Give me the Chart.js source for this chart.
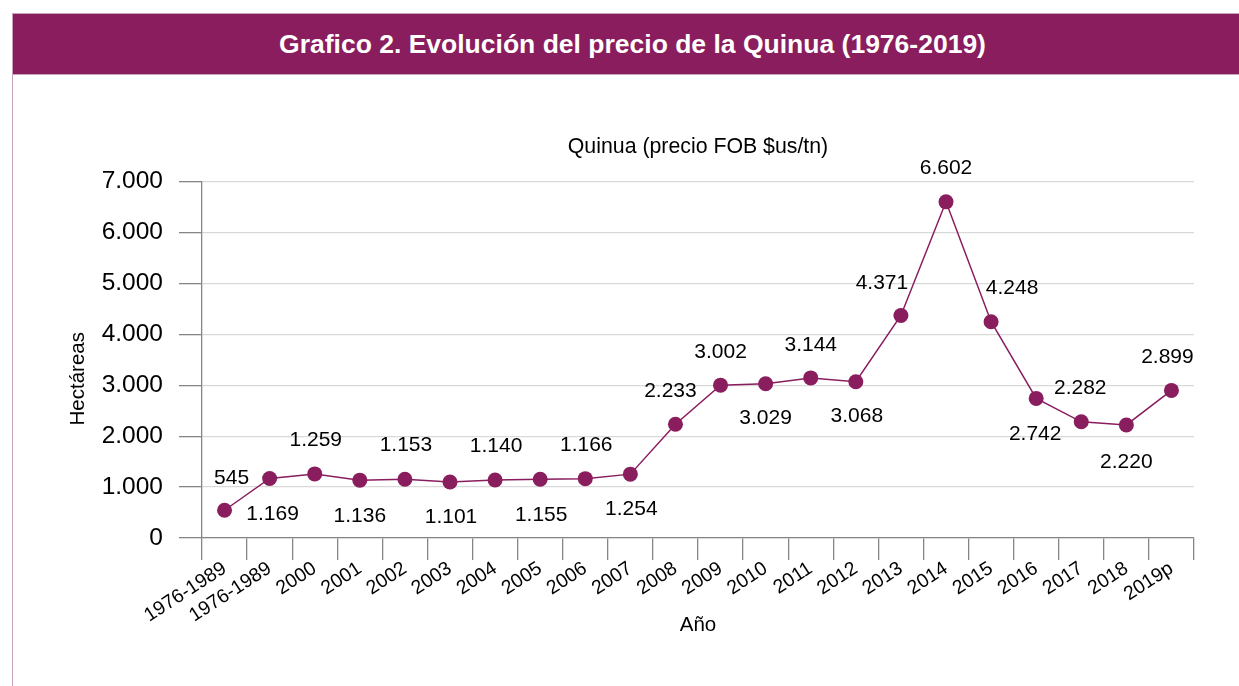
<!DOCTYPE html>
<html>
<head>
<meta charset="utf-8">
<script src="https://cdn.jsdelivr.net/npm/chart.js@4/dist/chart.umd.min.js"></script>
<style>
  html, body { margin: 0; padding: 0; background: #fff; }
  body { width: 1239px; height: 686px; position: relative; overflow: hidden; font-family: "Liberation Sans", Arial, sans-serif; }
  #header {
    position: absolute; left: 12px; top: 13px; width: 1227px; height: 60px;
    background: #891d5e; border-top: 1px solid #c9a3bb; border-bottom: 1px solid #c9a3bb; border-left: 1px solid #c9a3bb;
    color: #fff; font-weight: bold; font-size: 26.5px; line-height: 60px; text-align: center; text-indent: 12px;
  }
  #leftline { position: absolute; left: 12px; top: 75px; width: 1px; height: 611px; background: #c9a3bb; }
  #wrap { position: absolute; left: 0; top: 0; width: 1239px; height: 686px; }
</style>
</head>
<body>
<div id="wrap"><canvas id="quinuaChart" width="1239" height="686"></canvas></div>
<div id="header">Grafico 2. Evolución del precio de la Quinua (1976-2019)</div>
<div id="leftline"></div>
<script>
// Datos del gráfico
const anios = ['1976-1989', '1976-1989', '2000', '2001', '2002', '2003', '2004', '2005', '2006', '2007', '2008',
  '2009', '2010', '2011', '2012', '2013', '2014', '2015', '2016', '2017', '2018', '2019p'];
const precios = [545, 1169, 1259, 1136, 1153, 1101, 1140, 1155, 1166, 1254, 2233,
  3002, 3029, 3144, 3068, 4371, 6602, 4248, 2742, 2282, 2220, 2899];

// Desplazamiento de cada etiqueta respecto a su punto (estilo)
const desplazamientos = [[7, -32], [3, 36], [1, -34], [0, 36], [1, -34], [1, 35], [1, -34], [1, 36], [1, -33], [1, 35],
  [-5, -33], [0, -33], [0, 34], [0, -33], [1, 34], [-19, -32], [0, -34], [21, -33], [-1, 36], [-1, -34], [0, 37], [-4, -33]];

const morado = '#891d5e';
const fuente = '"Liberation Sans", Arial, sans-serif';

// Formato con punto de miles
const miles = v => String(v).replace(/\B(?=(\d{3})+(?!\d))/g, '.');

// Plugin sencillo para las etiquetas de datos y el título del eje Y
const etiquetas = {
  id: 'etiquetas',
  afterDatasetsDraw(chart) {
    const ctx = chart.ctx;
    const meta = chart.getDatasetMeta(0);
    ctx.save();
    ctx.font = '21px ' + fuente;
    ctx.fillStyle = '#000';
    ctx.textAlign = 'center';
    ctx.textBaseline = 'middle';
    meta.data.forEach((pt, i) => {
      const d = desplazamientos[i];
      ctx.fillText(miles(precios[i]), pt.x + d[0], pt.y + d[1]);
    });
    // título del eje Y, un poco por debajo del centro como en el original
    const area = chart.chartArea;
    ctx.translate(78, (area.top + area.bottom) / 2 + 19);
    ctx.rotate(-Math.PI / 2);
    ctx.font = '20.5px ' + fuente;
    ctx.fillText('Hectáreas', 0, 0);
    ctx.restore();
  }
};

window.onload = () => {
  const ctx = document.getElementById('quinuaChart').getContext('2d');
  new Chart(ctx, {
    type: 'line',
    data: {
      labels: anios,
      datasets: [{
        label: 'Quinua (precio FOB $us/tn)',
        data: precios,
        borderColor: morado,
        backgroundColor: morado,
        borderWidth: 1.5,
        pointRadius: 7.5,
        pointHoverRadius: 7.5,
        pointBorderWidth: 0,
        tension: 0
      }]
    },
    options: {
      responsive: false,
      animation: false,
      layout: { padding: { left: 50, right: 45, top: 0, bottom: 0 } },
      plugins: {
        legend: { display: false },
        tooltip: { enabled: false },
        title: {
          display: true,
          fullSize: false,
          text: 'Quinua (precio FOB $us/tn)',
          color: '#000',
          font: { family: fuente, size: 21.3, weight: 'normal' },
          padding: { top: 134, bottom: 22 }
        }
      },
      scales: {
        x: {
          offset: true,
          grid: { offset: true, drawOnChartArea: false, tickLength: 22, tickColor: '#868686', lineWidth: 1.3 },
          border: { color: '#868686', width: 1.3 },
          ticks: { color: '#000', font: { family: fuente, size: 19.5 }, minRotation: 33, maxRotation: 33, padding: -3, autoSkip: false },
          title: { display: true, text: 'Año', color: '#000', font: { family: fuente, size: 20.5 }, padding: { bottom: 48 } },
          afterFit: s => { s.height = 148; }
        },
        y: {
          min: 0,
          max: 7000,
          ticks: { stepSize: 1000, color: '#000', font: { family: fuente, size: 24.5 }, padding: 16, callback: v => miles(v) },
          grid: { color: '#d9d9d9', tickColor: '#868686', tickLength: 23, lineWidth: 1.3 },
          border: { color: '#868686', width: 1.3 },
          title: { display: false },
          afterFit: s => { s.width = 152; }
        }
      }
    },
    plugins: [etiquetas]
  });
};
</script>
</body>
</html>
